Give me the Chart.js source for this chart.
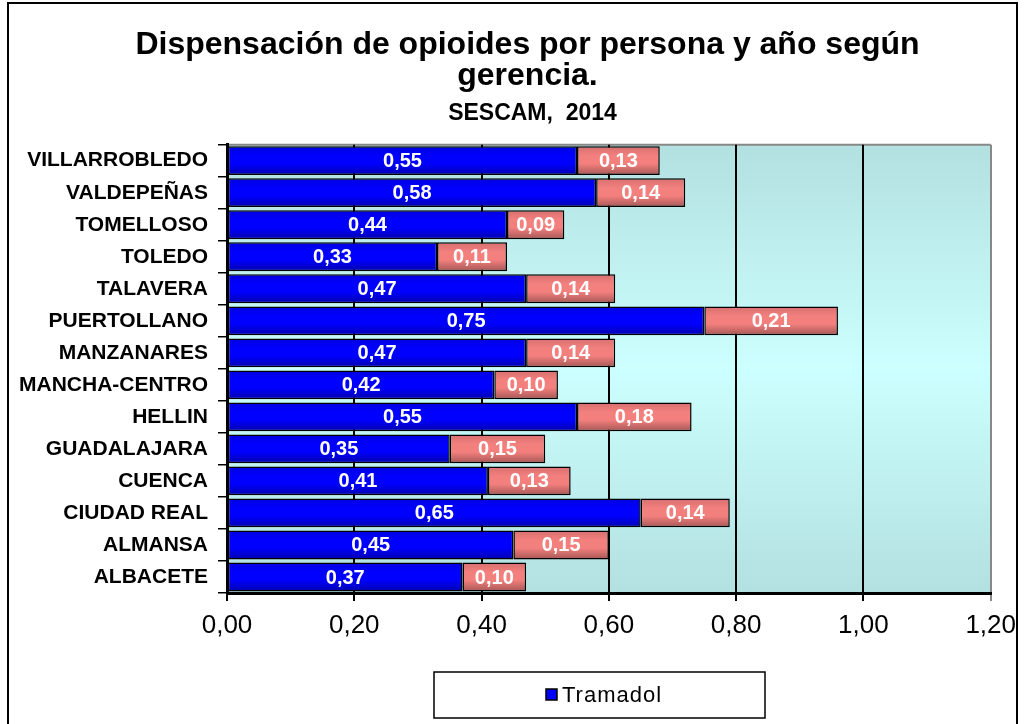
<!DOCTYPE html>
<html>
<head>
<meta charset="utf-8">
<script src="https://cdn.jsdelivr.net/npm/chart.js@4.4.1/dist/chart.umd.min.js"></script>
<style>
  html, body { margin: 0; padding: 0; background: #fff; }
  #wrap { width: 1025px; height: 724px; }
</style>
</head>
<body>
<div id="wrap"><canvas id="myChart" width="1025" height="724"></canvas></div>
<script>
// data
var gerencias = ['VILLARROBLEDO','VALDEPEÑAS','TOMELLOSO','TOLEDO','TALAVERA','PUERTOLLANO','MANZANARES','MANCHA-CENTRO','HELLIN','GUADALAJARA','CUENCA','CIUDAD REAL','ALMANSA','ALBACETE'];
var tramadol = [0.55,0.58,0.44,0.33,0.47,0.75,0.47,0.42,0.55,0.35,0.41,0.65,0.45,0.37];
var otros = [0.13,0.14,0.09,0.11,0.14,0.21,0.14,0.10,0.18,0.15,0.13,0.14,0.15,0.10];
var xTicks = [0,0.2,0.4,0.6,0.8,1.0,1.2];

var FONT = "'Liberation Sans', Arial, sans-serif";

// plot background + outer frame
var bgPlugin = {
  id: 'bg',
  afterLayout: function(chart) {
    // titles sit a bit right of centre in the original
    chart.boxes.forEach(function(b) {
      if (b.position === 'top' && b.fullSize) {
        var dx = (b === chart.titleBlock) ? 25 : 30;
        b.left += dx; b.right += dx;
      }
    });
  },
  beforeDraw: function(chart) {
    var c = chart.ctx, a = chart.chartArea;
    c.save();
    var g = c.createLinearGradient(0, a.top, 0, a.bottom);
    g.addColorStop(0, '#b3e0e0');
    g.addColorStop(0.5, '#ccffff');
    g.addColorStop(1, '#b3e0e0');
    c.fillStyle = g;
    c.fillRect(a.left, a.top, a.right - a.left, a.bottom - a.top);
    c.strokeStyle = '#888';
    c.lineWidth = 2;
    c.beginPath();
    c.moveTo(a.left, a.top);
    c.lineTo(a.right, a.top);
    c.stroke();
    c.restore();
  },
  afterDraw: function(chart) {
    var c = chart.ctx;
    c.save();
    c.strokeStyle = '#000';
    c.lineWidth = 2;
    c.strokeRect(8, 3, 1009, 740);
    c.restore();
  }
};

// shading on the bars + value labels inside them
var labelPlugin = {
  id: 'vals',
  afterDatasetsDraw: function(chart) {
    var c = chart.ctx;
    c.save();
    chart.data.datasets.forEach(function(ds, di) {
      chart.getDatasetMeta(di).data.forEach(function(bar) {
        var p = bar.getProps(['x','y','base','height'], true);
        var top = p.y - p.height / 2, bot = p.y + p.height / 2;
        var g = c.createLinearGradient(0, top, 0, bot);
        g.addColorStop(0, 'rgba(0,0,0,0.12)');
        g.addColorStop(0.35, 'rgba(0,0,0,0)');
        g.addColorStop(0.6, 'rgba(0,0,0,0)');
        g.addColorStop(1, 'rgba(0,0,0,0.32)');
        c.fillStyle = g;
        c.fillRect(p.base + 1, top + 1, p.x - p.base - 2, p.height - 2);
      });
    });
    c.fillStyle = '#fff';
    c.font = 'bold 20px ' + FONT;
    c.textAlign = 'center';
    c.textBaseline = 'middle';
    chart.data.datasets.forEach(function(ds, di) {
      chart.getDatasetMeta(di).data.forEach(function(bar, i) {
        var p = bar.getProps(['x','y','base'], true);
        c.fillText(ds.data[i].toFixed(2).replace('.', ','), (p.x + p.base) / 2, p.y + 1);
      });
    });
    c.restore();
  }
};

// boxed legend, only first series
var legendPlugin = {
  id: 'boxLegend',
  afterDraw: function(chart) {
    var c = chart.ctx;
    var ds = chart.data.datasets[0];
    c.save();
    c.strokeStyle = '#000';
    c.lineWidth = 1.5;
    c.strokeRect(434, 672, 331, 46);
    c.fillStyle = ds.backgroundColor;
    c.fillRect(546, 689, 11, 11);
    c.strokeRect(546, 689, 11, 11);
    c.fillStyle = '#000';
    c.font = '22px ' + FONT;
    c.letterSpacing = '1px';
    c.textBaseline = 'middle';
    c.textAlign = 'left';
    c.fillText(ds.label, 562, 696);
    c.restore();
  }
};

const data = {
  labels: gerencias,
  datasets: [{
    label: 'Tramadol',
    data: tramadol,
    backgroundColor: '#0000ff',
    borderColor: '#000',
    borderWidth: 1.5,
    borderSkipped: false,
    barPercentage: 0.9,
    categoryPercentage: 1
  }, {
    label: 'Otros opioides',
    data: otros,
    backgroundColor: '#f4807e',
    borderColor: '#000',
    borderWidth: 1.5,
    borderSkipped: false,
    barPercentage: 0.9,
    categoryPercentage: 1
  }]
};

const config = {
  type: 'bar',
  data: data,
  options: {
    indexAxis: 'y',
    responsive: false,
    animation: false,
    layout: { padding: { left: 10, right: 30, top: 10, bottom: 81 } },
    plugins: {
      legend: { display: false },
      tooltip: { enabled: false },
      title: {
        display: true,
        text: ['Dispensación de opioides por persona y año según', 'gerencia.'],
        color: '#000',
        font: { family: FONT, size: 32, weight: 'bold', lineHeight: 0.97 },
        padding: { top: 20, bottom: 0 }
      },
      subtitle: {
        display: true,
        text: 'SESCAM,  2014',
        color: '#000',
        font: { family: FONT, size: 23, weight: 'bold', lineHeight: 1.2 },
        padding: { top: 8, bottom: 17 }
      }
    },
    scales: {
      x: {
        stacked: true,
        min: 0,
        max: 1.2,
        afterBuildTicks: function(scale) {
          scale.ticks = xTicks.map(function(v) { return { value: v }; });
        },
        afterFit: function(scale) { scale.height = 50; },
        ticks: {
          color: '#000',
          font: { family: FONT, size: 26 },
          padding: 9,
          callback: function(v) { return Number(v).toFixed(2).replace('.', ','); }
        },
        grid: {
          color: function(ctx) { return ctx.tick && ctx.tick.value >= 1.2 ? '#888' : '#000'; },
          lineWidth: 2,
          tickLength: 8
        },
        border: { color: '#000', width: 3 }
      },
      y: {
        stacked: true,
        afterFit: function(scale) { scale.width = 217; },
        ticks: {
          color: '#000',
          font: { family: FONT, size: 21, weight: 'bold' },
          padding: 10
        },
        grid: { drawOnChartArea: false, color: '#000', lineWidth: 1.5, tickLength: 9 },
        border: { color: '#000', width: 3 }
      }
    }
  },
  plugins: [bgPlugin, labelPlugin, legendPlugin]
};

const myChart = new Chart(document.getElementById('myChart'), config);
</script>
</body>
</html>
